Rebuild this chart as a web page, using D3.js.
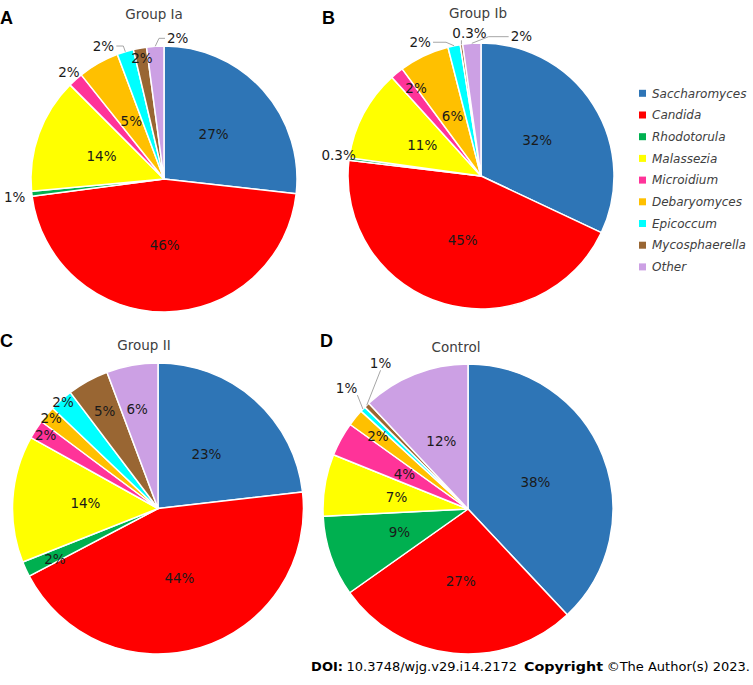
<!DOCTYPE html>
<html><head><meta charset="utf-8">
<script src="https://cdn.jsdelivr.net/npm/d3@7"></script>
<style>body{margin:0;background:#fff}svg{display:block}</style>
</head><body>
<svg id="chart" width="753" height="685"></svg>
<script>
// ---------- data ----------
const categories = ["Saccharomyces","Candida","Rhodotorula","Malassezia","Microidium","Debaryomyces","Epicoccum","Mycosphaerella","Other"];
const colors = ["#2E75B6","#FF0000","#00B050","#FFFF00","#FF3399","#FFC000","#00FFFF","#996633","#CCA0E4"];
const titles = ["Group Ia","Group Ib","Group II","Control"];
const panelLetters = ["A","B","C","D"];
const groupIa = [26.8,46.2,0.6,14.0,1.8,5.0,2.0,1.6,2.1];
const groupIb = [32.0,44.9,0.3,11.1,1.6,6.1,1.5,0.3,2.2];
const groupII = [23.2,44.1,1.7,14.1,2.1,1.9,2.6,4.6,5.7];
const control = [38.0,27.2,9.0,6.9,3.8,1.9,0.6,0.6,12.0];
const labelsIa = ["27%","46%","1%","14%","2%","5%","2%","2%","2%"];
const labelsIb = ["32%","45%","0.3%","11%","2%","6%","2%","0.3%","2%"];
const labelsII = ["23%","44%","2%","14%","2%","2%","2%","5%","6%"];
const labelsCtrl = ["38%","27%","9%","7%","4%","2%","1%","1%","12%"];
const footerParts = ["DOI:","10.3748/wjg.v29.i14.2172","Copyright","©The Author(s) 2023."];

// ---------- layout (positions / styles only) ----------
const panels = [
  {values:groupIa, labels:labelsIa, cx:164, cy:179, r:133, tx:154, ty:19, lx:0, ly:24,
   place:[{k:.5},{k:.5},{k:1.13,dy:2},{k:.5},{k:1.075},{k:.5},{k:1.1,dx:-18,dy:7,lead:"h",el:7},{k:.92},{k:1.06,dx:23,lead:"h",el:6}]},
  {values:groupIb, labels:labelsIb, cx:481, cy:176, r:133, tx:478, ty:18, lx:322, ly:24,
   place:[{k:.5},{k:.5},{k:1.08,dy:-2},{k:.5},{k:.82,dx:4,dy:-3},{k:.5},{k:1.07,dx:-32,dy:5.6,lead:"h",el:13},{k:1.075,dx:9.5,dy:-1,lead:"v"},{k:1.05,dx:50,lead:"h",el:20}]},
  {values:groupII, labels:labelsII, cx:158, cy:508.5, r:145.5, tx:144, ty:350, lx:0, ly:347,
   place:[{k:.5},{k:.5},{k:.78,dy:3},{k:.5},{k:.92},{k:.96},{k:.98},{k:.76},{k:.69,dx:-3}]},
  {values:control, labels:labelsCtrl, cx:468, cy:509, r:145, tx:456, ty:352, lx:320, ly:347,
   place:[{k:.5},{k:.5},{k:.5},{k:.5},{k:.5},{k:.8},{k:1.18,dx:2.5,dy:-2.7,lead:"v"},{k:1.17,dx:31,dy:-24,lead:"v",vc:true},{k:.5}]}
];

const svg = d3.select("#chart");
const FONT = "'DejaVu Sans', Verdana, sans-serif";
const pie = d3.pie().sort(null).value(d => d);

panels.forEach((p, pi) => {
  const g = svg.append("g").attr("transform", `translate(${p.cx},${p.cy})`);
  const arc = d3.arc().innerRadius(0).outerRadius(p.r);
  const arcs = pie(p.values);

  g.selectAll("path.slice").data(arcs).join("path")
    .attr("class","slice")
    .attr("d", arc)
    .attr("fill", (d,i) => colors[i])
    .attr("stroke", "#fff").attr("stroke-width", 1.5).attr("stroke-linejoin","round");

  arcs.forEach((d, i) => {
    const pl = p.place[i];
    const mid = (d.startAngle + d.endAngle) / 2;
    const sx = Math.sin(mid), sy = -Math.cos(mid);
    const x = sx * pl.k * p.r + (pl.dx || 0);
    const y = sy * pl.k * p.r + (pl.dy || 0);
    const t = g.append("text")
      .attr("x", x).attr("y", y).attr("dy", "0.35em")
      .attr("text-anchor", "middle")
      .attr("font-family", FONT).attr("font-size", 13.5)
      .attr("fill", "#1a1a1a")
      .text(p.labels[i]);
    if (pl.lead) {
      const bb = t.node().getBBox();
      const ox = sx * p.r, oy = sy * p.r;
      let pts;
      if (pl.lead === "h") {
        const right = ox > x;
        const ex = right ? bb.x + bb.width + 2 : bb.x - 2;
        const ey = y;
        const kx = ex + (right ? pl.el : -pl.el);
        pts = [[ex, ey], [kx, ey], [ox, oy]];
      } else {
        const vx = pl.vc ? x : Math.max(bb.x, Math.min(bb.x + bb.width, ox));
        pts = [[vx, bb.y + bb.height - 1], [ox, oy]];
      }
      g.append("path")
        .attr("d", d3.line()(pts))
        .attr("fill", "none").attr("stroke", "#a6a6a6").attr("stroke-width", 1);
    }
  });

  svg.append("text").attr("x", p.tx).attr("y", p.ty)
    .attr("text-anchor","middle").attr("font-family", FONT).attr("font-size", 13.5)
    .attr("fill", "#404040").text(titles[pi]);
  svg.append("text").attr("x", p.lx).attr("y", p.ly)
    .attr("font-family", "'Liberation Sans', Arial, sans-serif").attr("font-weight","bold")
    .attr("font-size", 18).attr("fill", "#000").text(panelLetters[pi]);
});

// legend
const legend = svg.append("g").attr("transform","translate(639,93.3)");
const rowY = d3.scalePoint().domain(categories).range([0, 21.7*8]);
categories.forEach((c, i) => {
  legend.append("rect").attr("x",0).attr("y", rowY(c)-3.5).attr("width",7).attr("height",7).attr("fill", colors[i]);
  legend.append("text").attr("x", 13).attr("y", rowY(c)).attr("dy","0.35em")
    .attr("font-family", FONT).attr("font-style","italic").attr("font-size", 12)
    .attr("fill","#404040").text(c);
});

// footer
const footerStyle = [
  {bold:true, x:343, anchor:"end"},
  {bold:false, x:517, anchor:"end"},
  {bold:true, x:524, anchor:"start", w:79},
  {bold:false, x:750, anchor:"end"}
];
footerParts.forEach((txt, i) => {
  const f = footerStyle[i];
  const t = svg.append("text").attr("x", f.x).attr("y", 671)
    .attr("font-family", FONT).attr("font-size", 13)
    .attr("font-weight", f.bold ? "bold" : "normal")
    .attr("text-anchor", f.anchor)
    .attr("fill","#000").text(txt);
  if (f.w) t.attr("textLength", f.w).attr("lengthAdjust","spacingAndGlyphs");
});
</script>
</body></html>
